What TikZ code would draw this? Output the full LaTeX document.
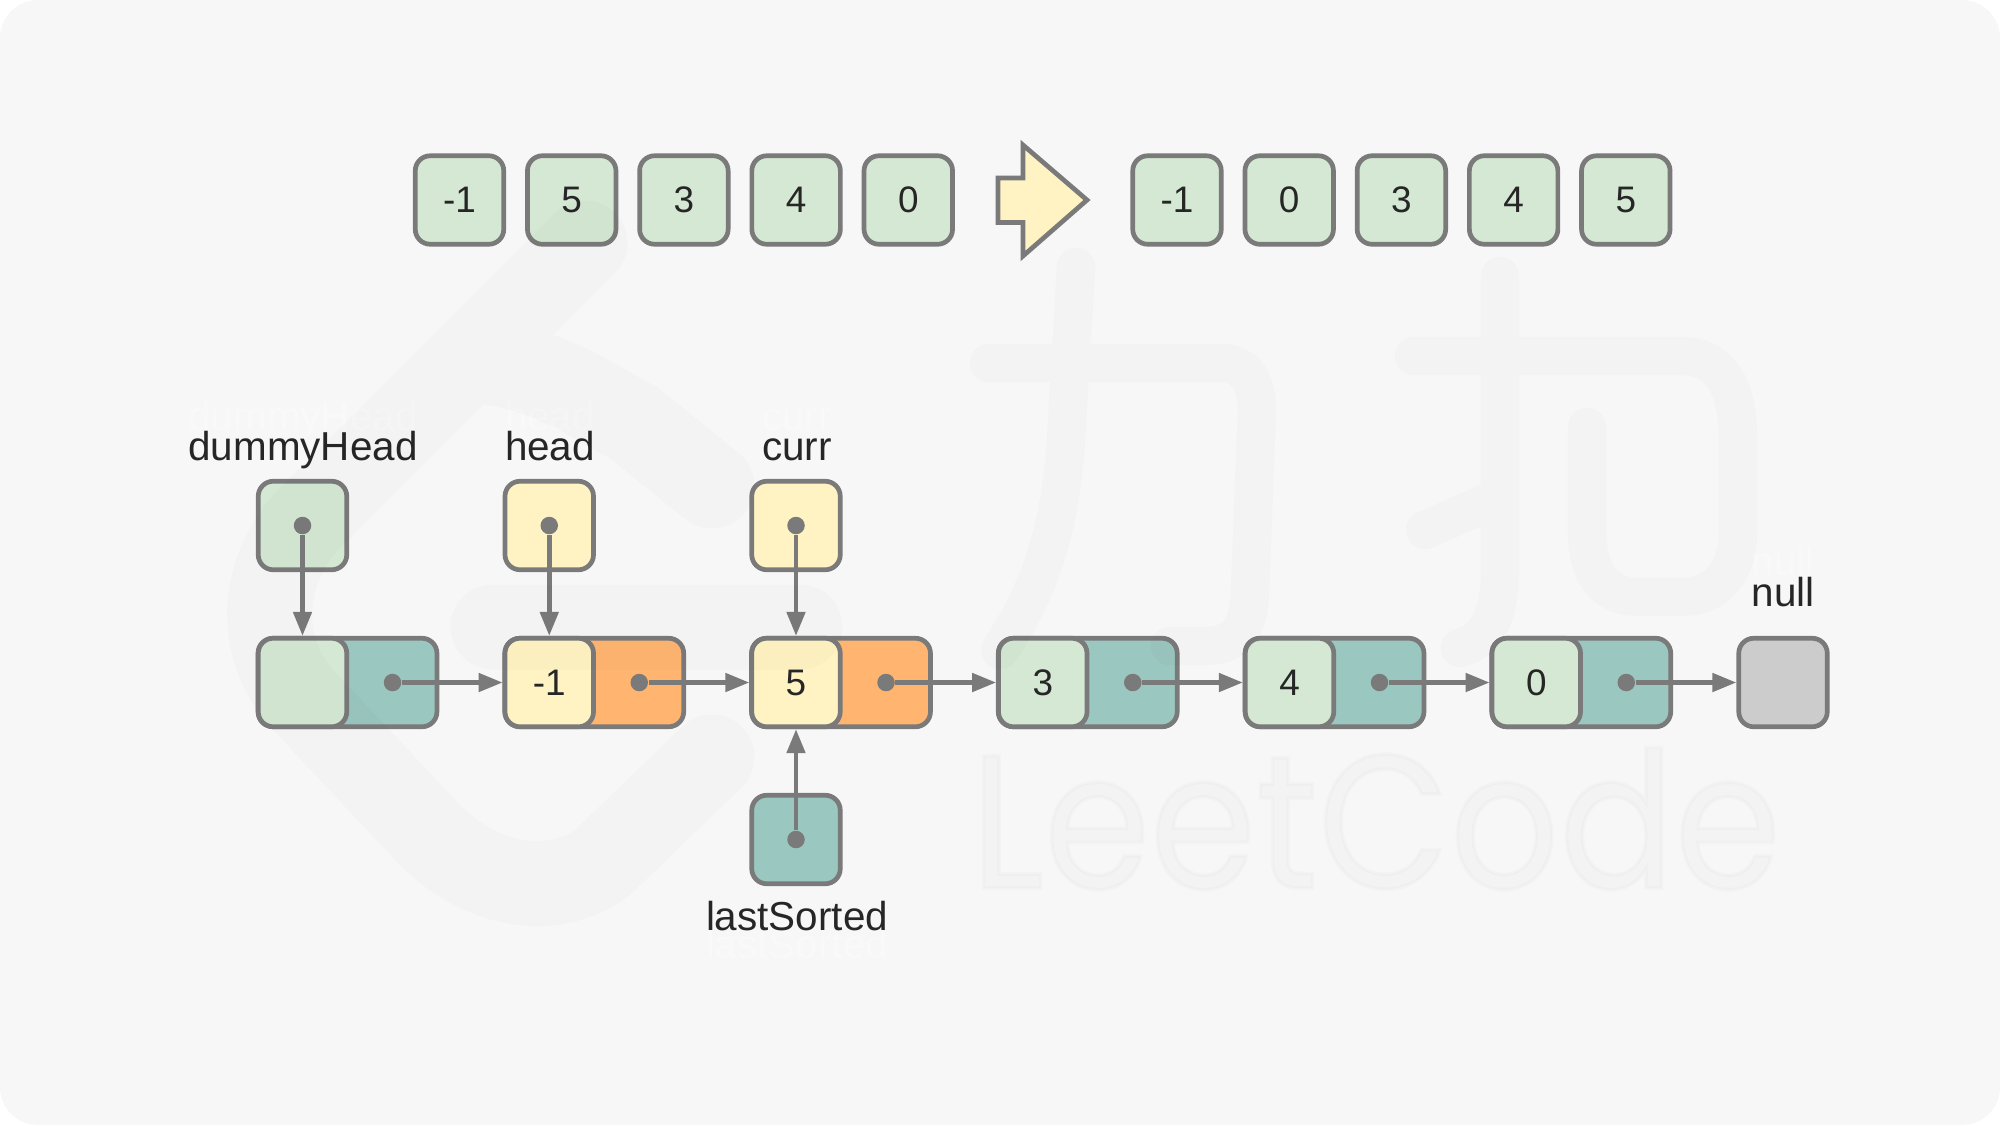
\documentclass[tikz,border=0pt]{standalone}
\usepackage{fontspec}
\usepackage{tikz}
\usepackage{xcolor}
\usetikzlibrary{arrows.meta}
\setmainfont{Liberation Sans}
\newfontfamily\markfont[FakeBold=2]{Poppins}
\definecolor{pagegray}{HTML}{F7F7F7}
\definecolor{linegray}{HTML}{7A7A7A}
\definecolor{textgray}{HTML}{262626}
\definecolor{boxgreen}{HTML}{D5E8D4}
\definecolor{boxyellow}{HTML}{FFF3C4}
\definecolor{boxteal}{HTML}{9AC7BF}
\definecolor{boxorange}{HTML}{FFB570}
\definecolor{boxnull}{HTML}{CCCCCC}

\begin{document}
\begin{tikzpicture}[node distance=1.122cm]
    % Define styles
    \tikzstyle{cell} = [rectangle, rounded corners=.15cm, minimum size=.885cm, inner sep=0pt, line width=.047cm, draw=linegray, text=textgray, font=\fontsize{10.5}{12}\selectfont]
    \tikzstyle{green} = [cell, fill=boxgreen]
    \tikzstyle{yellow} = [cell, fill=boxyellow]
    \tikzstyle{nextteal} = [cell, minimum width=1.789cm, fill=boxteal]
    \tikzstyle{nextorange} = [cell, minimum width=1.789cm, fill=boxorange]
    \tikzstyle{teal} = [cell, fill=boxteal]
    \tikzstyle{nullcell} = [cell, fill=boxnull]
    \tikzstyle{pdot} = [circle, minimum size=.175cm, inner sep=0pt, fill=linegray]
    \tikzstyle{tag} = [anchor=base, text=textgray, font=\fontsize{11.5}{13}\selectfont]
    \tikzstyle{ghost} = [anchor=base, text=white, text opacity=.3, font=\fontsize{11.5}{13}\selectfont]
    \tikzstyle{arrow} = [line width=.047cm, draw=linegray, -{Triangle[length=.24cm, width=.18cm]}]
    \tikzstyle{watermark} = [draw=black, draw opacity=.016, line cap=round, line join=round]

    \useasboundingbox (0,0) rectangle (20,-11.25);
    \fill [pagegray, rounded corners=.38cm] (0,0) rectangle (20,-11.25);

    % Top row, before
    \node (src1) [green] at (4.595,-2) {-1};
    \node (src2) [green, right of=src1] {5};
    \node (src3) [green, right of=src2] {3};
    \node (src4) [green, right of=src3] {4};
    \node (src5) [green, right of=src4] {0};

    % Big arrow
    \draw [line width=.047cm, draw=linegray, fill=boxyellow, miter limit=10] (9.98,-1.78) -- (10.23,-1.78) -- (10.23,-1.45) -- (10.87,-2) -- (10.23,-2.56) -- (10.23,-2.225) -- (9.98,-2.225) -- cycle;

    % Top row, after
    \node (dst1) [green] at (11.77,-2) {-1};
    \node (dst2) [green, right of=dst1] {0};
    \node (dst3) [green, right of=dst2] {3};
    \node (dst4) [green, right of=dst3] {4};
    \node (dst5) [green, right of=dst4] {5};

    % List, next cells go under the value cells
    \node (next1) [nextteal] at (3.475,-6.825) {};
    \node (next2) [nextorange, node distance=2.4675cm, right of=next1] {};
    \node (next3) [nextorange, node distance=2.4675cm, right of=next2] {};
    \node (next4) [nextteal, node distance=2.4675cm, right of=next3] {};
    \node (next5) [nextteal, node distance=2.4675cm, right of=next4] {};
    \node (next6) [nextteal, node distance=2.4675cm, right of=next5] {};

    \node (val1) [green, node distance=.45cm, left of=next1] {};
    \node (val2) [yellow, node distance=.45cm, left of=next2] {-1};
    \node (val3) [yellow, node distance=.45cm, left of=next3] {5};
    \node (val4) [green, node distance=.45cm, left of=next4] {3};
    \node (val5) [green, node distance=.45cm, left of=next5] {4};
    \node (val6) [green, node distance=.45cm, left of=next6] {0};
    \node (nullbox) [nullcell, node distance=2.4675cm, right of=val6] {};

    % Pointers
    \node (dummy) [green, node distance=1.57cm, above of=val1] {};
    \node (headptr) [yellow, node distance=1.57cm, above of=val2] {};
    \node (currptr) [yellow, node distance=1.57cm, above of=val3] {};
    \node (sortedptr) [teal, node distance=1.57cm, below of=val3] {};

    % Dots
    \node (dot1) [pdot, node distance=.9cm, right of=val1] {};
    \node (dot2) [pdot, node distance=.9cm, right of=val2] {};
    \node (dot3) [pdot, node distance=.9cm, right of=val3] {};
    \node (dot4) [pdot, node distance=.9cm, right of=val4] {};
    \node (dot5) [pdot, node distance=.9cm, right of=val5] {};
    \node (dot6) [pdot, node distance=.9cm, right of=val6] {};
    \node (dotdummy) [pdot] at (dummy) {};
    \node (dothead) [pdot] at (headptr) {};
    \node (dotcurr) [pdot] at (currptr) {};
    \node (dotsorted) [pdot] at (sortedptr) {};

    % Arrows
    \draw [arrow] (dot1) -- (val2);
    \draw [arrow] (dot2) -- (val3);
    \draw [arrow] (dot3) -- (val4);
    \draw [arrow] (dot4) -- (val5);
    \draw [arrow] (dot5) -- (val6);
    \draw [arrow] (dot6) -- (nullbox);
    \draw [arrow] (dotdummy) -- (val1);
    \draw [arrow] (dothead) -- (val2);
    \draw [arrow] (dotcurr) -- (val3);
    \draw [arrow] (dotsorted) -- (val3);

    % Labels
    \node (ghostdummy) [ghost] at (3.03,-4.3) {dummyHead};
    \node (ghosthead) [ghost] at (5.5,-4.3) {head};
    \node (ghostcurr) [ghost] at (7.97,-4.3) {curr};
    \node (ghostnull) [ghost] at (17.83,-5.75) {null};
    \node (ghostsorted) [ghost] at (7.97,-9.58) {lastSorted};
    \node (tagdummy) [tag] at (3.03,-4.6) {dummyHead};
    \node (taghead) [tag] at (5.5,-4.6) {head};
    \node (tagcurr) [tag] at (7.97,-4.6) {curr};
    \node (tagnull) [tag] at (17.83,-6.06) {null};
    \node (tagsorted) [tag] at (7.97,-9.3) {lastSorted};

    % Watermark, logo
    \draw [watermark, line width=.85cm] (5.85,-2.43) -- (3.07,-5.21) .. controls (2.6,-5.73) and (2.55,-6.5) .. (3.06,-7.03) -- (4.3,-8.35) .. controls (4.8,-8.85) and (5.5,-9) .. (6.02,-8.63) -- (7.12,-7.57)
        (4.9,-3.62) .. controls (5.6,-3.75) and (5.9,-4) .. (6.34,-4.23) -- (7.12,-4.86)
        (4.93,-6.27) -- (8,-6.27);

    % Watermark, characters
    \draw [watermark, line width=.385cm] (9.89,-3.63) -- (12.2,-3.63) .. controls (12.45,-3.63) and (12.57,-3.8) .. (12.57,-4.1) -- (12.5,-5.9) .. controls (12.49,-6.3) and (12.35,-6.46) .. (12.05,-6.46) -- (11.7,-6.46)
        (10.76,-2.67) -- (10.66,-4.4) .. controls (10.6,-5.3) and (10.4,-5.9) .. (10,-6.5)
        (14.14,-3.56) -- (16.8,-3.56) .. controls (17.2,-3.56) and (17.38,-3.85) .. (17.38,-4.4) -- (17.38,-5.3) .. controls (17.38,-5.75) and (17.15,-5.97) .. (16.8,-5.97) -- (16.4,-5.97) .. controls (16.05,-5.97) and (15.87,-5.75) .. (15.87,-5.3) -- (15.87,-4.27)
        (15,-2.76) -- (15,-5.7) .. controls (15,-6.1) and (14.9,-6.4) .. (14.6,-6.48)
        (14.25,-5.3) -- (15,-4.97);

    % Watermark, name
    \node (markname) [anchor=base, xscale=.9, transform shape, text=black, text opacity=.016, font=\markfont\fontsize{54}{60}\selectfont] at (13.755,-8.88) {LeetCode};
\end{tikzpicture}
\end{document}
